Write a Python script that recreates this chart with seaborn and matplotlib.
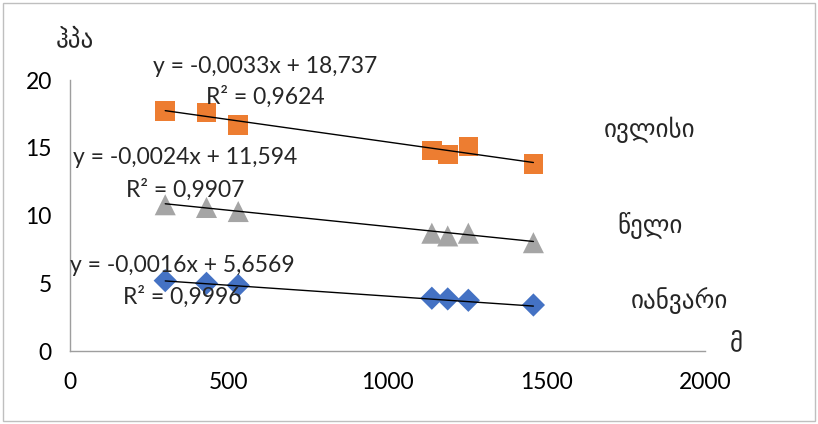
import numpy as np
import pandas as pd
import matplotlib
matplotlib.use("Agg")
import matplotlib.pyplot as plt
import seaborn as sns
from matplotlib.patches import Rectangle

# Station heights (m) and pressure-related values per period
heights = [300, 430, 530, 1140, 1190, 1255, 1460]
july = [17.7, 17.6, 16.7, 14.8, 14.5, 15.1, 13.8]
year = [10.8, 10.6, 10.3, 8.7, 8.5, 8.7, 8.0]
january = [5.2, 5.0, 4.85, 3.9, 3.85, 3.75, 3.4]

series_names = ["ივლისი", "წელი", "იანვარი"]
slopes = [-0.0033, -0.0024, -0.0016]
intercepts = [18.737, 11.594, 5.6569]
r2_values = ["0,9624", "0,9907", "0,9996"]
eq_labels = ["y = -0,0033x + 18,737", "y = -0,0024x + 11,594", "y = -0,0016x + 5,6569"]

x_ticks = [0, 500, 1000, 1500, 2000]
y_ticks = [0, 5, 10, 15, 20]

df = pd.DataFrame({
    "h": heights * 3,
    "v": july + year + january,
    "s": [series_names[0]] * 7 + [series_names[1]] * 7 + [series_names[2]] * 7,
})

sns.set_style("white")
plt.rcParams["font.family"] = ["Lato", "DejaVu Sans"]

fig = plt.figure(figsize=(8.18, 4.24), dpi=100)
ax = fig.add_axes([0.0856, 0.172, 0.776, 0.639])

palette = {series_names[0]: "#ED7D31", series_names[1]: "#A5A5A5", series_names[2]: "#4472C4"}
markers = {series_names[0]: "s", series_names[1]: "^", series_names[2]: "D"}
sizes = {series_names[0]: 200, series_names[1]: 230, series_names[2]: 140}

for name in series_names:
    sub = df[df["s"] == name]
    sns.scatterplot(data=sub, x="h", y="v", color=palette[name], marker=markers[name],
                    s=sizes[name], edgecolor="none", ax=ax, legend=False, zorder=3)

# Linear trend lines
xr = np.array([min(heights), max(heights)])
for m, b in zip(slopes, intercepts):
    ax.plot(xr, m * xr + b, color="black", lw=1.0, zorder=4)

ax.set_xlim(0, 2000)
ax.set_ylim(0, 20)
ax.set_xticks(x_ticks)
ax.set_yticks(y_ticks)
ax.set_xlabel("")
ax.set_ylabel("")
for sp in ["top", "right"]:
    ax.spines[sp].set_visible(False)
for sp in ["left", "bottom"]:
    ax.spines[sp].set_color("#9e9e9e")
    ax.spines[sp].set_linewidth(1.0)
ax.tick_params(axis="both", direction="out", length=7, width=1.0, color="#9e9e9e",
               labelsize=16.5, pad=6, labelcolor="black")
ax.tick_params(axis="x", pad=8)

fs = 16.5
# Equation and R² annotations
eq_pos = [(614, 21.0, 18.75), (362, 14.3, 11.9), (353, 6.35, 4.0)]
for (x, ye, yr), eq, r2 in zip(eq_pos, eq_labels, r2_values):
    ax.text(x, ye, eq, fontsize=fs, ha="center", va="center", zorder=5, clip_on=False)
    ax.text(x, yr, "R² = " + r2, fontsize=fs, ha="center", va="center", zorder=5, clip_on=False)

# Series names on the right
geo = ["DejaVu Sans"]
gfs = 18
ax.text(1827, 16.3, series_names[0], fontsize=gfs, ha="center", va="center", family=geo, clip_on=False)
ax.text(1827, 9.3, series_names[1], fontsize=gfs, ha="center", va="center", family=geo, clip_on=False)
ax.text(1921, 3.76, series_names[2], fontsize=gfs, ha="center", va="center", family=geo, clip_on=False)

# Axis titles
ax.text(2098, 0.6, "მ", fontsize=gfs, ha="center", va="center", family=geo, clip_on=False)
ax.text(16, 23.0, "ჰპა", fontsize=gfs, ha="center", va="center", family=geo, clip_on=False)

# Outer frame
fig.patches.append(Rectangle((0.004, 0.006), 0.992, 0.986, transform=fig.transFigure,
                             fill=False, edgecolor="#bfbfbf", lw=1.0))

fig.savefig("out.png", dpi=100)
